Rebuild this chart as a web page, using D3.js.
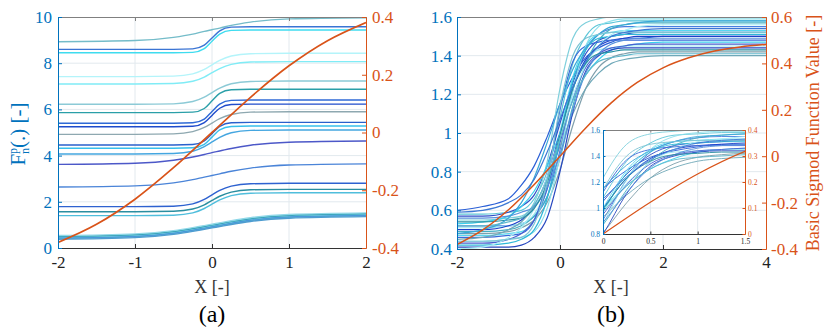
<!DOCTYPE html>
<html>
<head>
<meta charset="utf-8">
<script src="https://cdn.jsdelivr.net/npm/d3@7"></script>
<style>
  body { margin: 0; background: #fff; }
  svg { display: block; font-family: "Liberation Serif", "Times New Roman", serif; }
  svg text { font-family: "Liberation Serif", "Times New Roman", serif; }
</style>
</head>
<body>
<div id="chart"></div>
<script>
// ---------- data: panel (a) ----------
const xA = [-2, -1, -0.5, -0.25, -0.1, 0, 0.1, 0.25, 0.5, 1, 2];
const curvesA = [
  [8.93, 8.98, 9.12, 9.26, 9.38, 9.45, 9.52, 9.64, 9.78, 9.92, 9.97],
  [8.60, 8.60, 8.60, 8.62, 8.78, 9.09, 9.40, 9.56, 9.58, 9.58, 9.58],
  [8.45, 8.45, 8.45, 8.47, 8.63, 8.95, 9.26, 9.42, 9.44, 9.44, 9.44],
  [7.42, 7.42, 7.44, 7.54, 7.73, 7.93, 8.12, 8.31, 8.41, 8.43, 8.43],
  [7.10, 7.10, 7.12, 7.22, 7.40, 7.59, 7.77, 7.95, 8.05, 8.07, 8.07],
  [6.22, 6.22, 6.24, 6.34, 6.53, 6.73, 6.92, 7.11, 7.21, 7.23, 7.23],
  [5.86, 5.86, 5.86, 5.88, 6.04, 6.37, 6.69, 6.85, 6.87, 6.87, 6.87],
  [5.40, 5.40, 5.40, 5.42, 5.58, 5.91, 6.23, 6.39, 6.41, 6.41, 6.41],
  [5.25, 5.25, 5.25, 5.27, 5.43, 5.74, 6.05, 6.21, 6.23, 6.23, 6.23],
  [4.92, 4.92, 4.94, 5.04, 5.22, 5.41, 5.60, 5.78, 5.88, 5.90, 5.90],
  [4.46, 4.46, 4.46, 4.48, 4.64, 4.95, 5.26, 5.42, 5.44, 5.44, 5.44],
  [4.32, 4.32, 4.32, 4.34, 4.49, 4.80, 5.11, 5.26, 5.28, 5.28, 5.28],
  [4.07, 4.07, 4.09, 4.19, 4.39, 4.59, 4.79, 4.99, 5.09, 5.11, 5.11],
  [3.62, 3.67, 3.80, 3.94, 4.05, 4.13, 4.20, 4.31, 4.45, 4.58, 4.63],
  [2.64, 2.69, 2.82, 2.96, 3.07, 3.14, 3.21, 3.32, 3.46, 3.59, 3.64],
  [1.79, 1.79, 1.81, 1.91, 2.10, 2.30, 2.49, 2.68, 2.78, 2.80, 2.80],
  [1.57, 1.57, 1.59, 1.69, 1.87, 2.06, 2.24, 2.42, 2.52, 2.54, 2.54],
  [1.40, 1.40, 1.42, 1.52, 1.71, 1.90, 2.08, 2.27, 2.37, 2.39, 2.39],
  [0.41, 0.48, 0.62, 0.75, 0.84, 0.90, 0.96, 1.05, 1.18, 1.32, 1.39],
  [0.45, 0.52, 0.66, 0.79, 0.88, 0.94, 1.00, 1.09, 1.22, 1.36, 1.43],
  [0.48, 0.55, 0.69, 0.82, 0.91, 0.97, 1.03, 1.12, 1.25, 1.39, 1.46],
  [0.51, 0.58, 0.72, 0.85, 0.94, 1.00, 1.06, 1.15, 1.28, 1.42, 1.49],
  [0.54, 0.61, 0.75, 0.88, 0.97, 1.03, 1.09, 1.18, 1.31, 1.45, 1.52],
  [0.38, 0.45, 0.59, 0.72, 0.81, 0.87, 0.93, 1.02, 1.15, 1.29, 1.36]
];
const sigXA = [-2, -1.5, -1, -0.5, 0, 0.5, 1, 1.5, 2];
const sigYA = [-0.381, -0.318, -0.231, -0.122, 0, 0.122, 0.231, 0.318, 0.381];

// ---------- data: panel (b) and its inset ----------
const xB = [-2, -1.5, -1, -0.75, -0.5, -0.25, 0, 0.25, 0.5, 0.75, 1, 1.25, 1.5, 2, 4];
const curvesB = [
  [0.60, 0.62, 0.66, 0.73, 0.83, 0.98, 1.15, 1.29, 1.39, 1.44, 1.47, 1.49, 1.49, 1.50, 1.50],
  [0.58, 0.58, 0.59, 0.60, 0.66, 0.80, 1.08, 1.36, 1.50, 1.56, 1.57, 1.58, 1.58, 1.58, 1.58],
  [0.57, 0.57, 0.59, 0.62, 0.68, 0.83, 1.05, 1.26, 1.41, 1.48, 1.50, 1.51, 1.52, 1.52, 1.52],
  [0.55, 0.55, 0.56, 0.57, 0.64, 0.85, 1.23, 1.49, 1.57, 1.59, 1.60, 1.60, 1.60, 1.60, 1.60],
  [0.53, 0.54, 0.57, 0.62, 0.70, 0.83, 1.00, 1.17, 1.30, 1.38, 1.43, 1.45, 1.46, 1.47, 1.47],
  [0.52, 0.52, 0.52, 0.53, 0.57, 0.67, 0.91, 1.22, 1.43, 1.51, 1.54, 1.55, 1.55, 1.55, 1.55],
  [0.51, 0.51, 0.52, 0.53, 0.58, 0.72, 0.98, 1.24, 1.38, 1.43, 1.44, 1.45, 1.45, 1.45, 1.45],
  [0.50, 0.50, 0.52, 0.55, 0.62, 0.77, 1.00, 1.23, 1.38, 1.45, 1.48, 1.49, 1.50, 1.50, 1.50],
  [0.49, 0.49, 0.50, 0.52, 0.57, 0.67, 0.87, 1.14, 1.36, 1.48, 1.54, 1.56, 1.57, 1.57, 1.57],
  [0.48, 0.48, 0.49, 0.51, 0.55, 0.64, 0.81, 1.04, 1.23, 1.34, 1.39, 1.41, 1.42, 1.42, 1.42],
  [0.47, 0.47, 0.48, 0.49, 0.55, 0.71, 1.00, 1.29, 1.45, 1.51, 1.52, 1.53, 1.53, 1.53, 1.53],
  [0.46, 0.46, 0.47, 0.48, 0.55, 0.76, 1.12, 1.37, 1.45, 1.47, 1.48, 1.48, 1.48, 1.48, 1.48],
  [0.45, 0.46, 0.50, 0.54, 0.62, 0.76, 0.93, 1.10, 1.23, 1.31, 1.36, 1.38, 1.39, 1.40, 1.40],
  [0.44, 0.44, 0.45, 0.46, 0.49, 0.61, 0.88, 1.22, 1.45, 1.55, 1.58, 1.59, 1.59, 1.59, 1.59],
  [0.43, 0.43, 0.45, 0.48, 0.55, 0.71, 0.95, 1.18, 1.34, 1.41, 1.44, 1.45, 1.46, 1.46, 1.46],
  [0.42, 0.42, 0.43, 0.45, 0.50, 0.66, 0.97, 1.27, 1.43, 1.49, 1.50, 1.51, 1.51, 1.51, 1.51],
  [0.41, 0.41, 0.41, 0.42, 0.46, 0.56, 0.80, 1.11, 1.32, 1.40, 1.43, 1.44, 1.44, 1.44, 1.44],
  [0.40, 0.41, 0.46, 0.51, 0.61, 0.77, 0.98, 1.19, 1.35, 1.45, 1.51, 1.53, 1.55, 1.56, 1.56],
  [0.56, 0.56, 0.57, 0.59, 0.62, 0.72, 0.89, 1.12, 1.31, 1.41, 1.46, 1.48, 1.49, 1.49, 1.49],
  [0.54, 0.54, 0.55, 0.56, 0.61, 0.74, 0.99, 1.23, 1.36, 1.41, 1.42, 1.43, 1.43, 1.43, 1.43],
  [0.48, 0.50, 0.56, 0.64, 0.77, 0.95, 1.15, 1.33, 1.44, 1.51, 1.55, 1.56, 1.57, 1.58, 1.58],
  [0.44, 0.44, 0.45, 0.46, 0.53, 0.75, 1.14, 1.40, 1.49, 1.51, 1.52, 1.52, 1.52, 1.52, 1.52],
  [0.59, 0.60, 0.64, 0.68, 0.76, 0.90, 1.07, 1.24, 1.37, 1.45, 1.50, 1.52, 1.53, 1.54, 1.54],
  [0.52, 0.52, 0.54, 0.56, 0.63, 0.76, 0.97, 1.17, 1.30, 1.37, 1.39, 1.40, 1.41, 1.41, 1.41]
];
const sigXB = [-2, -1.5, -1, -0.5, 0, 0.5, 1, 1.5, 2, 2.5, 3, 3.5, 4];
const sigYB = [-0.381, -0.318, -0.231, -0.122, 0, 0.122, 0.231, 0.318, 0.381, 0.424, 0.453, 0.471, 0.482];

// ---------- tick labels ----------
const ticksAx = [-2, -1, 0, 1, 2];
const ticksAyL = [0, 2, 4, 6, 8, 10];
const ticksAyR = [-0.4, -0.2, 0, 0.2, 0.4];
const ticksBx = [-2, 0, 2, 4];
const ticksByL = [0.4, 0.6, 0.8, 1, 1.2, 1.4, 1.6];
const ticksByR = [-0.4, -0.2, 0, 0.2, 0.4, 0.6];
const ticksIx = [0, 0.5, 1, 1.5];
const ticksIyL = [0.8, 1, 1.2, 1.4, 1.6];
const ticksIyR = [0, 0.1, 0.2, 0.3, 0.4];

// line colours (styles, kept apart from the values)
const colorsA = ["#74bcc9", "#3a74d4", "#3fdcef", "#b4f4fa", "#80ecf6", "#8ccad6",
  "#2a9fa8", "#2f6ad6", "#1f4ccc", "#8ea8b0", "#2a60cc", "#38c0ec", "#44a6e0",
  "#4c58c8", "#4a84d8", "#2e62d0", "#2a8ea0", "#50bedc",
  "#5cb8d4", "#3b86d8", "#6fcbe0", "#2d9ab0", "#8fd8e8", "#4e9cd0"];
const colorsB = ["#2a5fd6", "#5cc6d8", "#2f4fc8", "#7fd0dc", "#3ad0ee", "#4a7fe0",
  "#9be8f2", "#1e3fc8", "#44b0c4", "#7f9fac", "#58d8f0", "#3a6ad8", "#6fa8b8",
  "#8ce0ec", "#4b5fd0", "#2fb8d8", "#2848c0", "#a8eef6", "#5890dc", "#2a8fa0",
  "#3aa8d8", "#7ec4d4", "#3c78d4", "#60b8cc"];

const BLUE = "#0072BD", ORANGE = "#D95319", GRID = "#e2e9ee";
const SERIF = "Liberation Serif, Times New Roman, serif";

let svg = d3.select("#chart").append("svg")
  .attr("width", 830).attr("height", 332);

let defs = svg.append("defs");

// draws one set of axes with a left and a right y scale
function drawPanel(p) {
  let g = svg.append("g");
  let x = d3.scaleLinear().domain(p.xDom).range([p.left, p.right]);
  let yL = d3.scaleLinear().domain(p.yLDom).range([p.bottom, p.top]);
  let yR = d3.scaleLinear().domain(p.yRDom).range([p.bottom, p.top]);

  defs.append("clipPath").attr("id", p.id)
    .append("rect").attr("x", p.left).attr("y", p.top)
    .attr("width", p.right - p.left).attr("height", p.bottom - p.top);

  g.append("rect").attr("x", p.left).attr("y", p.top)
    .attr("width", p.right - p.left).attr("height", p.bottom - p.top)
    .style("fill", "#fff");

  // grid
  g.selectAll(".gx").data(p.xTicks.slice(1, -1)).enter().append("line")
    .attr("x1", d => x(d)).attr("x2", d => x(d))
    .attr("y1", p.top).attr("y2", p.bottom)
    .style("stroke", GRID).style("stroke-width", 1);
  g.selectAll(".gy").data(p.yLTicks.slice(1, -1)).enter().append("line")
    .attr("x1", p.left).attr("x2", p.right)
    .attr("y1", d => yL(d)).attr("y2", d => yL(d))
    .style("stroke", GRID).style("stroke-width", 1);

  let plot = g.append("g").attr("clip-path", "url(#" + p.id + ")");
  let line = d3.line()
    .x((d, i) => x(p.xs[i]))
    .y(d => yL(d))
    .curve(d3.curveMonotoneX);
  plot.selectAll(".curve").data(p.curves).enter().append("path")
    .attr("d", line)
    .style("fill", "none")
    .style("stroke", (d, i) => p.colors[i % p.colors.length])
    .style("stroke-width", p.lw);

  let sigLine = d3.line()
    .x((d, i) => x(p.sigX[i]))
    .y(d => yR(d))
    .curve(d3.curveMonotoneX);
  plot.append("path").datum(p.sigY)
    .attr("d", sigLine)
    .style("fill", "none")
    .style("stroke", ORANGE)
    .style("stroke-width", p.lw + 0.3);

  let fmt = d => String(d);
  let tk = p.tick;

  // bottom axis
  let ax = g.append("g").attr("transform", "translate(0," + p.bottom + ")")
    .call(d3.axisBottom(x).tickValues(p.xTicks).tickFormat(fmt)
      .tickSizeInner(-tk).tickSizeOuter(0).tickPadding(p.pad + 2))
    .attr("font-family", SERIF).attr("font-size", p.fs);
  ax.select(".domain").style("stroke", "#333");
  ax.selectAll(".tick line").style("stroke", "#333");
  ax.selectAll("text").style("fill", "#222");

  // top box line with ticks
  let at = g.append("g").attr("transform", "translate(0," + p.top + ")")
    .call(d3.axisTop(x).tickValues(p.xTicks).tickFormat("")
      .tickSizeInner(-tk).tickSizeOuter(0));
  at.select(".domain").style("stroke", "#808080");
  at.selectAll(".tick line").style("stroke", "#808080");

  // left axis
  let al = g.append("g").attr("transform", "translate(" + p.left + ",0)")
    .call(d3.axisLeft(yL).tickValues(p.yLTicks).tickFormat(fmt)
      .tickSizeInner(-tk).tickSizeOuter(0).tickPadding(p.pad))
    .attr("font-family", SERIF).attr("font-size", p.fs);
  al.select(".domain").style("stroke", BLUE);
  al.selectAll(".tick line").style("stroke", BLUE);
  al.selectAll("text").style("fill", BLUE);

  // right axis
  let ar = g.append("g").attr("transform", "translate(" + p.right + ",0)")
    .call(d3.axisRight(yR).tickValues(p.yRTicks).tickFormat(fmt)
      .tickSizeInner(-tk).tickSizeOuter(0).tickPadding(p.pad))
    .attr("font-family", SERIF).attr("font-size", p.fs);
  ar.select(".domain").style("stroke", ORANGE);
  ar.selectAll(".tick line").style("stroke", ORANGE);
  ar.selectAll("text").style("fill", ORANGE);

  return g;
}

// panel (a)
drawPanel({
  id: "clipA", left: 58, right: 366, top: 17, bottom: 248,
  xDom: [-2, 2], yLDom: [0, 10], yRDom: [-0.4, 0.4],
  xTicks: ticksAx, yLTicks: ticksAyL, yRTicks: ticksAyR,
  xs: xA, curves: curvesA, colors: colorsA, sigX: sigXA, sigY: sigYA,
  lw: 1.4, fs: 17, pad: 6, tick: 4
});

// panel (b)
drawPanel({
  id: "clipB", left: 457, right: 766, top: 17, bottom: 249,
  xDom: [-2, 4], yLDom: [0.4, 1.6], yRDom: [-0.4, 0.6],
  xTicks: ticksBx, yLTicks: ticksByL, yRTicks: ticksByR,
  xs: xB, curves: curvesB, colors: colorsB, sigX: sigXB, sigY: sigYB,
  lw: 1.2, fs: 17, pad: 5, tick: 4
});

// inset of panel (b), same series zoomed in
drawPanel({
  id: "clipI", left: 603, right: 745, top: 130, bottom: 234,
  xDom: [0, 1.5], yLDom: [0.8, 1.6], yRDom: [0, 0.4],
  xTicks: ticksIx, yLTicks: ticksIyL, yRTicks: ticksIyR,
  xs: xB, curves: curvesB, colors: colorsB, sigX: sigXB, sigY: sigYB,
  lw: 0.9, fs: 7.5, pad: 3, tick: 2.5
});

// axis titles
svg.append("text")
  .attr("x", 212).attr("y", 293)
  .attr("text-anchor", "middle")
  .style("font-size", "18px").style("fill", "#333")
  .text("X [-]");
svg.append("text")
  .attr("x", 611).attr("y", 293)
  .attr("text-anchor", "middle")
  .style("font-size", "18px").style("fill", "#333")
  .text("X [-]");
svg.append("text")
  .attr("x", 212).attr("y", 322)
  .attr("text-anchor", "middle")
  .style("font-size", "24px").style("fill", "#000")
  .text("(a)");
svg.append("text")
  .attr("x", 611).attr("y", 322)
  .attr("text-anchor", "middle")
  .style("font-size", "24px").style("fill", "#000")
  .text("(b)");

// left label F_n^p(.) [-]
let fl = svg.append("text")
  .attr("transform", "translate(25,134) rotate(-90)")
  .attr("text-anchor", "middle")
  .style("font-size", "21px").style("fill", BLUE);
fl.append("tspan").text("F");
fl.append("tspan").attr("dy", 4).style("font-size", "12px").text("n");
fl.append("tspan").attr("dx", -6).attr("dy", -12).style("font-size", "12px").text("p");
fl.append("tspan").attr("dy", 8).text("(.) [-]");

// right label
svg.append("text")
  .attr("transform", "translate(819,133) rotate(-90)")
  .attr("text-anchor", "middle")
  .style("font-size", "18px").style("fill", ORANGE)
  .text("Basic Sigmod Function Value [-]");
</script>
</body>
</html>
